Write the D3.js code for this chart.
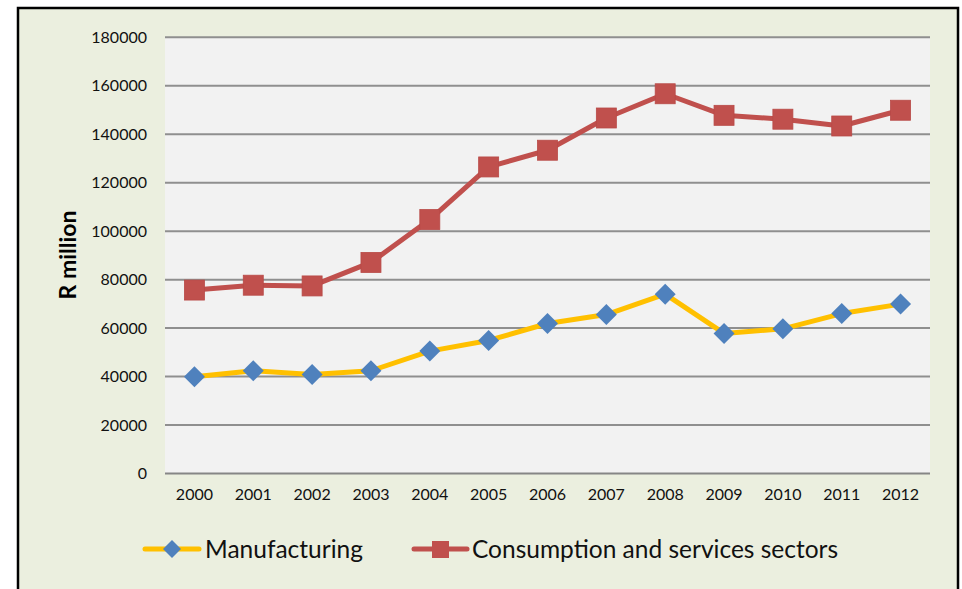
<!DOCTYPE html>
<html><head><meta charset="utf-8">
<script src="https://cdn.jsdelivr.net/npm/d3@7"></script>
<style>body{margin:0;background:#fff;}svg{display:block;font-family:Lato,"Open Sans",sans-serif;}</style>
</head><body><svg id="c" width="962" height="589"></svg>
<script>
const years = ["2000","2001","2002","2003","2004","2005","2006","2007","2008","2009","2010","2011","2012"];
const manufacturing = [39900,42400,40900,42400,50500,54900,61900,65600,74000,57800,59700,66000,69900];
const consumption = [75700,77700,77400,87100,104800,126500,133400,146700,156700,147800,146200,143400,149900];
const yTicks = [0,20000,40000,60000,80000,100000,120000,140000,160000,180000];
const seriesNames = ["Manufacturing","Consumption and services sectors"];

const svg = d3.select("#c");
svg.append("rect").attr("x",18).attr("y",8).attr("width",940).attr("height",600)
  .attr("fill","#ebefdf").attr("stroke","#000").attr("stroke-width",2.5);

const L=165,R=930,T=37.3,B=473.5;
svg.append("rect").attr("x",L).attr("y",T).attr("width",R-L).attr("height",B-T).attr("fill","#f2f2f2");

const x = d3.scaleBand().domain(years).range([L,R]);
const y = d3.scaleLinear().domain([0,180000]).range([B,T]);

const grid = svg.append("g");
grid.selectAll("line").data(yTicks).join("line")
  .attr("x1",L).attr("x2",R).attr("y1",d=>y(d)).attr("y2",d=>y(d))
  .attr("stroke",d=>d===0?"#868686":"#8f8f8f").attr("stroke-width",2);

const yAxis = svg.append("g").attr("transform",`translate(${L},0)`)
  .call(d3.axisLeft(y).tickValues(yTicks).tickFormat(d3.format("d")).tickSize(0).tickPadding(18));
yAxis.select(".domain").remove();
yAxis.selectAll("text").attr("font-size",16).attr("fill","#111").attr("font-family","Lato,'Open Sans',sans-serif");

const xAxis = svg.append("g").attr("transform",`translate(0,${B})`)
  .call(d3.axisBottom(x).tickSize(0).tickPadding(15));
xAxis.select(".domain").remove();
xAxis.selectAll("text").attr("font-size",16).attr("fill","#111").attr("font-family","Lato,'Open Sans',sans-serif");

svg.append("text").attr("transform","translate(76,255) rotate(-90)")
  .attr("text-anchor","middle").attr("font-size",23).attr("font-weight","bold").text("R million");

const cx = d=>x(d)+x.bandwidth()/2;
const line = d3.line().x((d,i)=>cx(years[i])).y(d=>y(d));

svg.append("path").datum(consumption).attr("d",line).attr("fill","none")
  .attr("stroke","#c0504d").attr("stroke-width",5).attr("stroke-linejoin","round");
svg.append("g").selectAll("rect").data(consumption).join("rect")
  .attr("x",(d,i)=>cx(years[i])-10).attr("y",d=>y(d)-10).attr("width",20).attr("height",20)
  .attr("fill","#c0504d").attr("stroke","#b84a47").attr("stroke-width",0.8);

svg.append("path").datum(manufacturing).attr("d",line).attr("fill","none")
  .attr("stroke","#ffc000").attr("stroke-width",5).attr("stroke-linejoin","round");
const diamond = "M0,-10.5L10.5,0L0,10.5L-10.5,0Z";
svg.append("g").selectAll("path").data(manufacturing).join("path")
  .attr("transform",(d,i)=>`translate(${cx(years[i])},${y(d)})`).attr("d",diamond)
  .attr("fill","#4f81bd");

// legend
const lg = svg.append("g");
lg.append("line").attr("x1",145).attr("x2",199).attr("y1",549).attr("y2",549)
  .attr("stroke","#ffc000").attr("stroke-width",5).attr("stroke-linecap","round");
lg.append("path").attr("transform","translate(172,549)").attr("d","M0,-9L9,0L0,9L-9,0Z").attr("fill","#4f81bd");
lg.append("text").attr("x",205).attr("y",558).attr("font-size",24.5).attr("fill","#111").text(seriesNames[0]);

lg.append("line").attr("x1",414).attr("x2",467).attr("y1",549).attr("y2",549)
  .attr("stroke","#c0504d").attr("stroke-width",5).attr("stroke-linecap","round");
lg.append("rect").attr("x",432).attr("y",541).attr("width",17).attr("height",17).attr("fill","#c0504d");
lg.append("text").attr("x",472).attr("y",558).attr("font-size",24.5).attr("fill","#111").text(seriesNames[1]);
</script></body></html>
